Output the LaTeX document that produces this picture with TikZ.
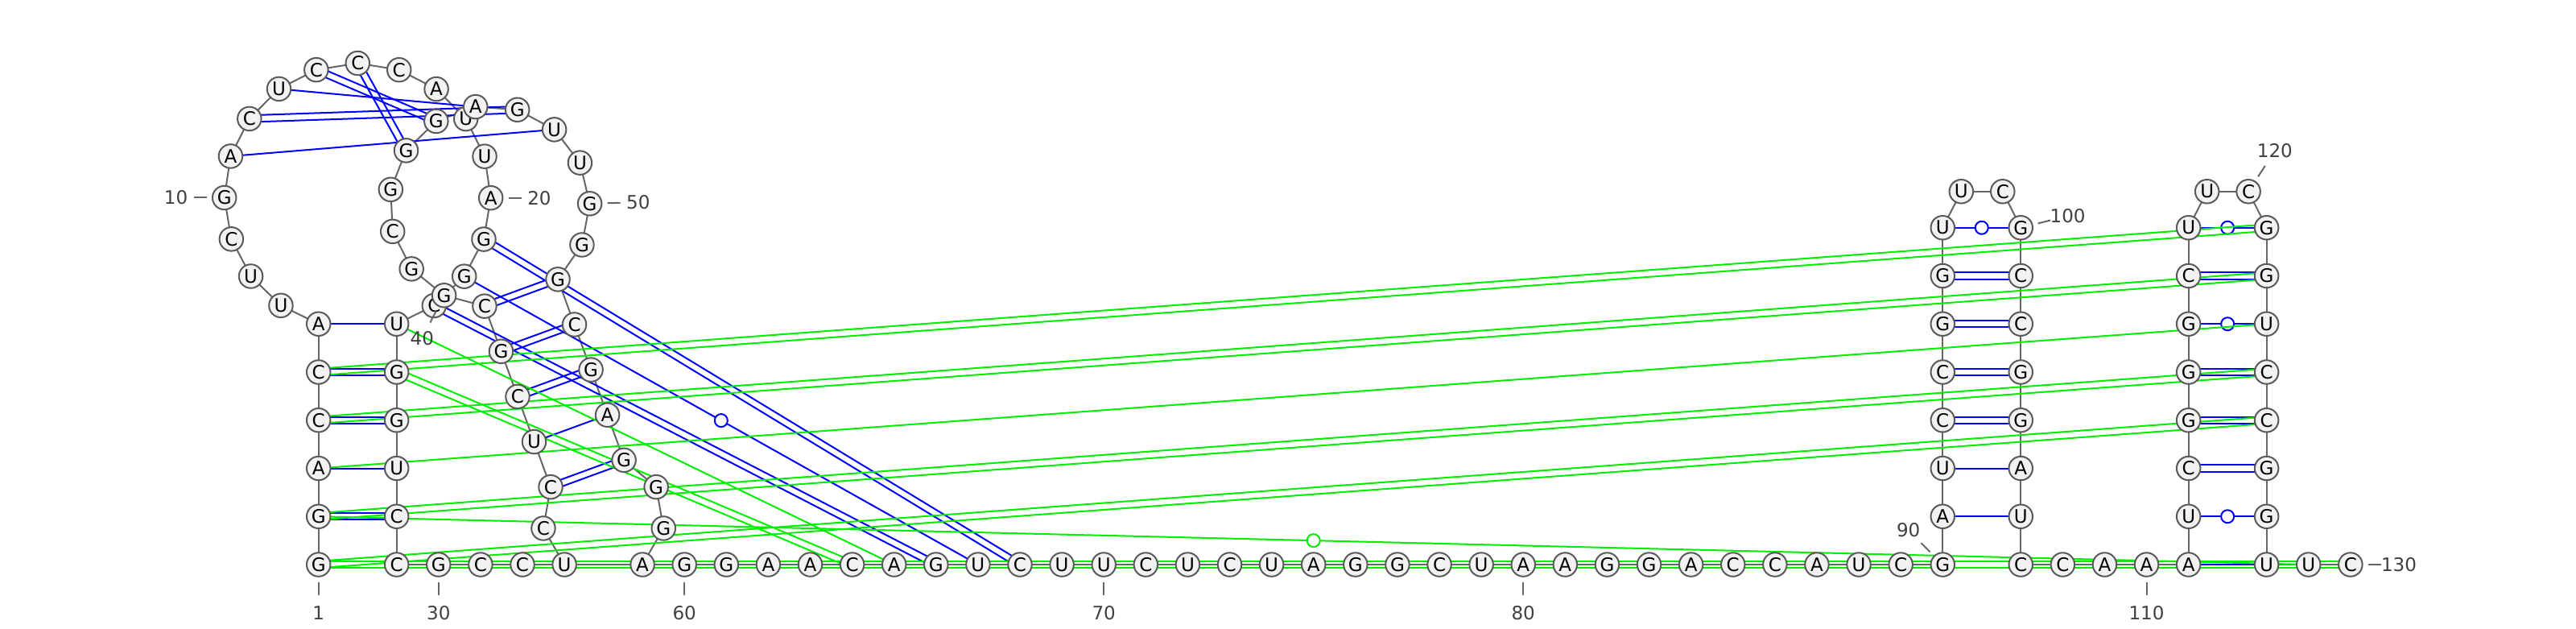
\documentclass[tikz,border=0pt]{standalone}
\usepackage{fontspec}
\setmainfont{DejaVu Sans}
\usetikzlibrary{calc}
\definecolor{pblue}{RGB}{0,0,255}
\definecolor{pgreen}{RGB}{0,238,0}
\definecolor{bbgrey}{RGB}{102,102,102}
\definecolor{ndgrey}{RGB}{90,90,90}
\definecolor{ndfill}{RGB}{242,242,242}
\definecolor{lbgrey}{RGB}{64,64,64}
\pgfdeclarelayer{bbone}
\pgfdeclarelayer{bpairs}
\pgfdeclarelayer{gpairs}
\pgfsetlayers{bbone,bpairs,gpairs,main}
\tikzset{
  base/.style={circle,draw=ndgrey,fill=ndfill,line width=2pt,minimum size=29.5pt,inner sep=0pt,font=\fontsize{23}{23}\selectfont},
  bb/.style={draw=bbgrey,line width=2pt},
  bl/.style={draw=pblue,line width=2pt},
  gr/.style={draw=pgreen,line width=2pt},
  wobc/.style={circle,minimum size=16pt,inner sep=0pt,line width=2pt,fill=white},
  tickln/.style={draw=bbgrey,line width=2pt},
  numtxt/.style={text=lbgrey,font=\fontsize{23}{23}\selectfont,inner sep=0pt}
}
\newcommand\dbl[3]{%
  \draw[#1] ($(#2.center)!4.2pt!90:(#3.center)$) -- ($(#3.center)!4.2pt!-90:(#2.center)$);
  \draw[#1] ($(#2.center)!4.2pt!-90:(#3.center)$) -- ($(#3.center)!4.2pt!90:(#2.center)$);}
\newcommand\sgl[3]{\draw[#1] (#2.center) -- (#3.center);}
\newcommand\wob[5]{\draw[#1] (#3.center) -- (#4.center);
  \node[wobc,draw=#2] (#5) at ($(#3.center)!0.5!(#4.center)$) {};}
\newcommand\lab[4]{\node[numtxt] (#4) at ($(#1.center)+(#2:29.5)$) {#3};
  \draw[tickln] ($(#1.center)!0.366!(#4.center)$) -- ($(#1.center)!0.63!(#4.center)$);}
\begin{document}
\begin{tikzpicture}[x=2.0408pt,y=-2.0408pt]
\useasboundingbox (0,0) rectangle (1568,382.2);
% ---------- bases ----------
\foreach \i/\l in {1/G,2/G,3/A,4/C,5/C,6/A}
  \node[base] (n\i) at (193.9,{343.5-(\i-1)*29.28}) {\l};
\foreach \i/\l in {7/U,8/U,9/C,10/G,11/A,12/C,13/U,14/C,15/C,16/C,17/A,18/U,19/U,20/A,21/G,22/G,23/C}
  \node[base] (n\i) at ($(217.66,119.56)+({107.04+(\i-6)*18.111}:81.1)$) {\l};
\foreach \i/\l in {24/U,25/G,26/G,27/U,28/C,29/C}
  \node[base] (n\i) at (241.42,{343.5-(29-\i)*29.28}) {\l};
\foreach \i/\l in {30/G,31/C,32/C,33/U}
  \node[base] (n\i) at ({241.42+(\i-29)*25.53},343.5) {\l};
\node[base] (n34) at ($(367.3,314.94)+(169.95:37.15)$) {C};
\foreach \i/\l in {35/C,36/U,37/C,38/G,39/C}
  \node[base] (n\i) at ({335.17-(\i-35)*10.055},{296.28-(\i-35)*27.50}) {\l};
\foreach \i/\l in {40/G,41/G,42/C,43/G,44/G,45/G,46/A,47/G,48/U,49/U,50/G,51/G}
  \node[base] (n\i) at ($(297.99,125.36)+({92.85+(\i-39)*24.159}:61)$) {\l};
\foreach \i/\l in {52/G,53/C,54/G,55/A,56/G}
  \node[base] (n\i) at ({379.8-(56-\i)*10.055},{279.96-(56-\i)*27.50}) {\l};
\node[base] (n57) at ($(367.3,314.94)+(329.85:37.15)$) {G};
\node[base] (n58) at ($(367.3,314.94)+(10.04:37.15)$) {G};
\foreach \i/\l in {59/A,60/G,61/G,62/A,63/A,64/C,65/A,66/G,67/U,68/C,69/U,70/U,71/C,72/U,73/C,74/U,75/A,76/G,77/G,78/C,79/U,80/A,81/A,82/G,83/G,84/A,85/C,86/C,87/A,88/U,89/C}
  \node[base] (n\i) at ({391.06+(\i-59)*25.53},343.5) {\l};
\foreach \i/\l in {90/G,91/A,92/U,93/C,94/C,95/G,96/G,97/U}
  \node[base] (n\i) at (1182.49,{343.5-(\i-90)*29.28}) {\l};
\node[base] (n98) at (1193.8,116.5) {U};
\node[base] (n99) at (1219.0,116.5) {C};
\foreach \i/\l in {100/G,101/C,102/C,103/G,104/G,105/A,106/U,107/C}
  \node[base] (n\i) at (1230.01,{343.5-(107-\i)*29.28}) {\l};
\foreach \i/\l in {108/C,109/A,110/A}
  \node[base] (n\i) at ({1230.01+(\i-107)*25.53},343.5) {\l};
\foreach \i/\l in {111/A,112/U,113/C,114/G,115/G,116/G,117/C,118/U}
  \node[base] (n\i) at (1332.13,{343.5-(\i-111)*29.28}) {\l};
\node[base] (n119) at (1343.4,116.5) {U};
\node[base] (n120) at (1368.6,116.5) {C};
\foreach \i/\l in {121/G,122/G,123/U,124/C,125/C,126/G,127/G,128/U}
  \node[base] (n\i) at (1379.65,{343.5-(128-\i)*29.28}) {\l};
\foreach \i/\l in {129/U,130/C}
  \node[base] (n\i) at ({1379.65+(\i-128)*25.53},343.5) {\l};
% ---------- backbone ----------
\begin{pgfonlayer}{bbone}
\foreach \i [count=\j from 2] in {1,...,129}
  \draw[bb] (n\i.center) -- (n\j.center);
\end{pgfonlayer}
% ---------- blue pairs ----------
\begin{pgfonlayer}{bpairs}
\dbl{bl}{n1}{n29}\dbl{bl}{n2}{n28}\sgl{bl}{n3}{n27}\dbl{bl}{n4}{n26}\dbl{bl}{n5}{n25}\sgl{bl}{n6}{n24}
\sgl{bb}{n33}{n59}
\dbl{bl}{n35}{n56}\sgl{bl}{n36}{n55}\dbl{bl}{n37}{n54}\dbl{bl}{n38}{n53}\dbl{bl}{n39}{n52}
\dbl{bl}{n90}{n107}\sgl{bl}{n91}{n106}\sgl{bl}{n92}{n105}\dbl{bl}{n93}{n104}\dbl{bl}{n94}{n103}
\dbl{bl}{n95}{n102}\dbl{bl}{n96}{n101}\wob{bl}{pblue}{n97}{n100}{w1}
\sgl{bl}{n111}{n128}\wob{bl}{pblue}{n112}{n127}{w2}\dbl{bl}{n113}{n126}\dbl{bl}{n114}{n125}
\dbl{bl}{n115}{n124}\wob{bl}{pblue}{n116}{n123}{w3}\dbl{bl}{n117}{n122}\wob{bl}{pblue}{n118}{n121}{w4}
\sgl{bl}{n11}{n48}\dbl{bl}{n12}{n47}\sgl{bl}{n13}{n46}\dbl{bl}{n14}{n45}\dbl{bl}{n15}{n44}
\dbl{bl}{n21}{n68}\wob{bl}{pblue}{n22}{n67}{w5}\dbl{bl}{n23}{n66}
\end{pgfonlayer}
% ---------- green pairs ----------
\begin{pgfonlayer}{gpairs}
\dbl{gr}{n1}{n130}\wob{gr}{pgreen}{n2}{n129}{w6}
\dbl{gr}{n1}{n125}\dbl{gr}{n2}{n124}\sgl{gr}{n3}{n123}\dbl{gr}{n4}{n122}\dbl{gr}{n5}{n121}
\sgl{gr}{n24}{n65}\dbl{gr}{n25}{n64}
\end{pgfonlayer}
% ---------- numbering ----------
\lab{n1}{90}{1}{l1}
\lab{n10}{180}{10}{l10}
\lab{n20}{0}{20}{l20}
\lab{n30}{90}{30}{l30}
\lab{n40}{117}{40}{l40}
\lab{n50}{-1.4}{50}{l50}
\lab{n60}{90}{60}{l60}
\lab{n70}{90}{70}{l70}
\lab{n80}{90}{80}{l80}
\lab{n90}{225}{90}{l90}
\lab{n100}{-14}{100}{l100}
\lab{n110}{90}{110}{l110}
\lab{n120}{-57}{120}{l120}
\lab{n130}{0}{130}{l130}
\end{tikzpicture}
\end{document}
